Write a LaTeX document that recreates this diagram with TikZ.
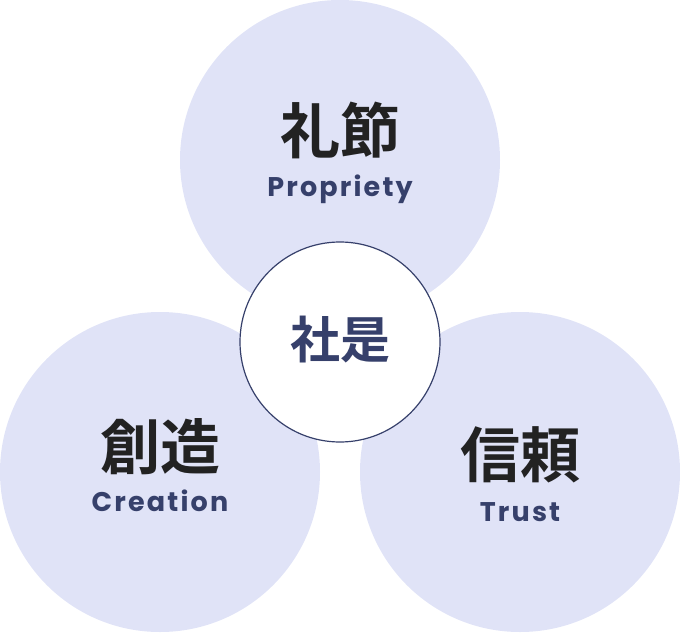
\documentclass[tikz,border=0pt]{standalone}
\usepackage{fontspec}
\newfontfamily\cjk{Noto Sans CJK JP}[BoldFont={* Bold}]
\newfontfamily\lat{Poppins}
\definecolor{bub}{HTML}{E0E3F7}
\definecolor{navy}{HTML}{36406B}
\definecolor{ink}{HTML}{222222}
\begin{document}
\begin{tikzpicture}[x=1pt,y=-1pt,
  bubble/.style={circle,fill=bub,minimum size=320pt,inner sep=0pt},
  jp/.style={font=\cjk\bfseries\fontsize{60}{64}\selectfont,text=ink},
  en/.style={font=\lat\bfseries\fontsize{27}{30}\selectfont\addfontfeature{LetterSpace=8},text=navy}]
\useasboundingbox (0,0) rectangle (680,632);
\node[bubble] (top) at (340,160) {};
\node[bubble] (bl) at (160,472) {};
\node[bubble] (br) at (520,472) {};
\node[circle,fill=white,draw=navy,line width=1.2pt,minimum size=200pt,inner sep=0pt] (c) at (340,342) {};
\node[jp] (t1) at (340,130) {礼節};
\node[en] (t2) at (340,189) {Propriety};
\node[jp] (l1) at (160,447) {創造};
\node[en] (l2) at (160,501) {Creation};
\node[jp] (r1) at (520,455) {信頼};
\node[en] (r2) at (520,512) {Trust};
\node[font=\cjk\bfseries\fontsize{50}{54}\selectfont,text=navy] (cc) at (340,340) {社是};
\end{tikzpicture}
\end{document}
